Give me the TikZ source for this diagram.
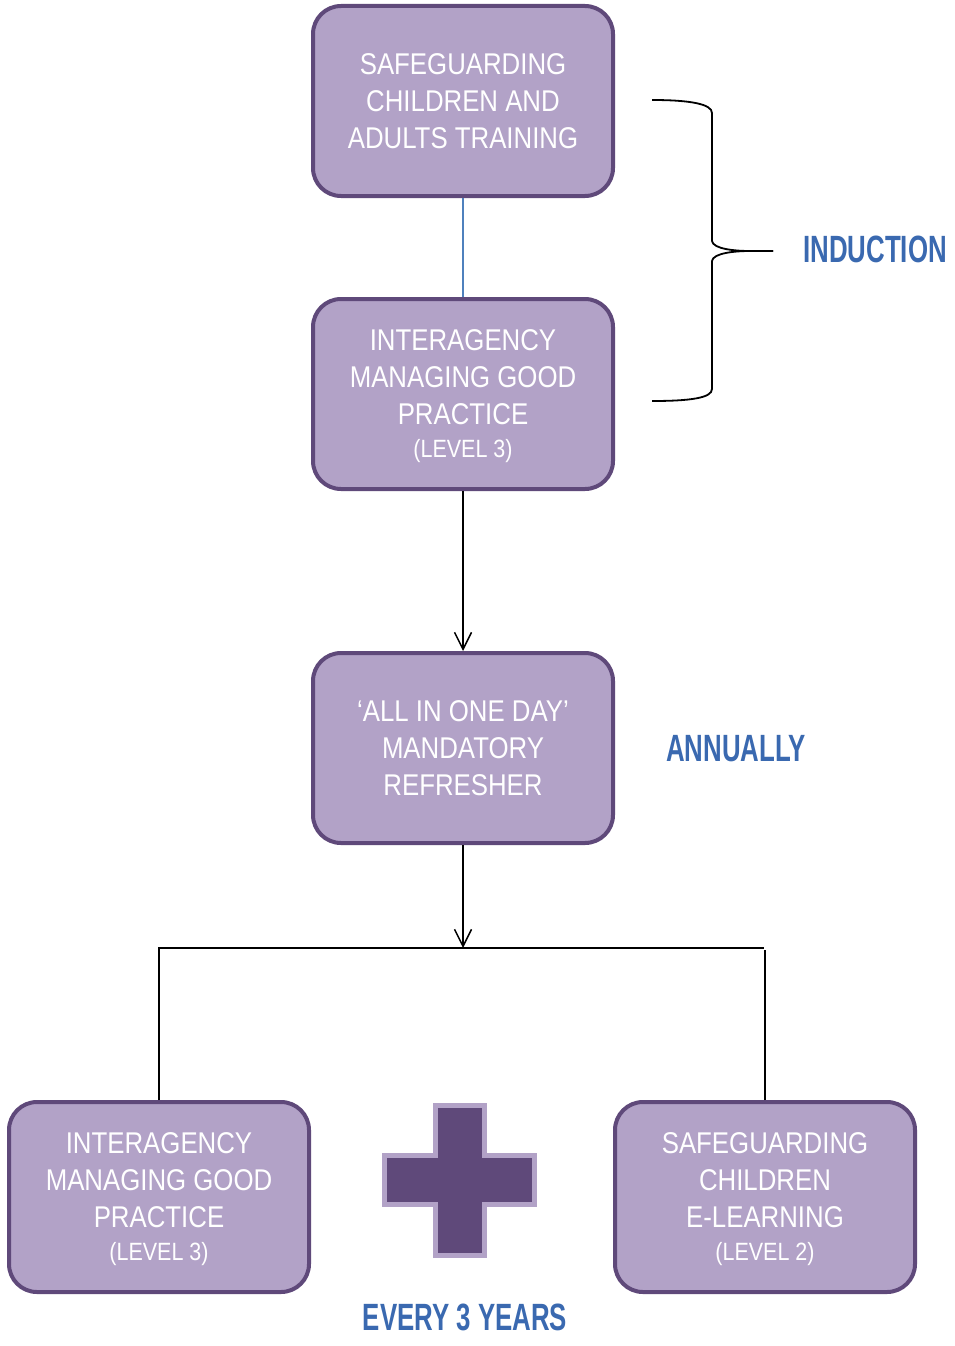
\documentclass[tikz,border=0pt]{standalone}
\usepackage{fontspec}
\setmainfont{Liberation Sans}[FakeStretch=0.86]
\newfontfamily\wafont{Liberation Sans}[FakeStretch=0.68]
\usetikzlibrary{arrows.meta}
\definecolor{boxfill}{HTML}{B2A2C7}
\definecolor{boxline}{HTML}{5F497A}
\definecolor{wablue}{HTML}{3A69B0}
\definecolor{connblue}{HTML}{4F81BD}
\tikzset{
  stepbox/.style={draw=boxline, fill=boxfill, line width=4pt, rounded corners=28pt,
    minimum width=300pt, minimum height=190pt, inner sep=0pt, align=center,
    text=white, font=\fontsize{30}{37}\selectfont},
  arr/.style={draw=black, line width=1.5pt, -{Straight Barb[length=17pt,width=17pt,line width=1.5pt]}},
  plainline/.style={draw=black, line width=1.5pt},
  braceline/.style={draw=black, line width=1.8pt},
  wordart/.style={text=wablue, font=\wafont\bfseries\fontsize{38}{40}\selectfont, inner sep=0pt}
}
\newcommand{\lvlline}[1]{\\[-4pt]\raisebox{0pt}[\height][0pt]{\fontsize{25}{30}\selectfont (LEVEL #1)}}
\begin{document}
\begin{tikzpicture}[x=1pt,y=-1pt]
\useasboundingbox (0,0) rectangle (954,1346);
\node[stepbox] (b1) at (463,101) {SAFEGUARDING\\CHILDREN AND\\ADULTS TRAINING};
\node[stepbox] (b2) at (463,394) {INTERAGENCY\\MANAGING GOOD\\PRACTICE\lvlline{3}};
\node[stepbox] (b3) at (463,748) {‘ALL IN ONE DAY’\\MANDATORY\\REFRESHER};
\node[stepbox] (b4) at (159,1197) {INTERAGENCY\\MANAGING GOOD\\PRACTICE\lvlline{3}};
\node[stepbox] (b5) at (765,1197) {SAFEGUARDING\\CHILDREN\\E-LEARNING\lvlline{2}};
\coordinate (j) at (463,948);
\coordinate (jl) at (159,948);
\coordinate (jr) at (764,948);
\draw[draw=connblue, line width=1.2pt] (b1.south) -- (b2.north);
\draw[arr] (b2.south) -- (b3.north);
\draw[arr] (b3.south) -- (j);
\draw[plainline] (b4.north) -- (jl) -- (jr);
\draw[plainline] (b5.north) -- (b5.north |- 0,950);
% brace
\coordinate (bt) at (652,100);
\coordinate (bb) at (652,401);
\coordinate (tip) at (773,251);
\draw[braceline] (bt) .. controls (690,100) and (712,104) .. (712,113) -- (712,241)
  .. controls (713,249) and (735,251) .. (750,251) -- (tip);
\draw[braceline] (tip) -- (750,251) .. controls (735,251) and (713,253) .. (712,261)
  -- (712,389) .. controls (712,398) and (690,401) .. (bb);
% plus sign
\draw[draw=boxfill, fill=boxline, line width=5pt, miter limit=10]
  (435.5,1105.5) -- (484.5,1105.5) -- (484.5,1155.5) -- (534.5,1155.5) -- (534.5,1204.5)
  -- (484.5,1204.5) -- (484.5,1255.5) -- (435.5,1255.5) -- (435.5,1204.5) -- (384.5,1204.5)
  -- (384.5,1155.5) -- (435.5,1155.5) -- cycle;
\node[wordart] (ind) at (875,249) {INDUCTION};
\node[wordart] (ann) at (736,749) {ANNUALLY};
\node[wordart] (e3y) at (465,1317) {EVERY 3 YEARS};
\end{tikzpicture}
\end{document}
